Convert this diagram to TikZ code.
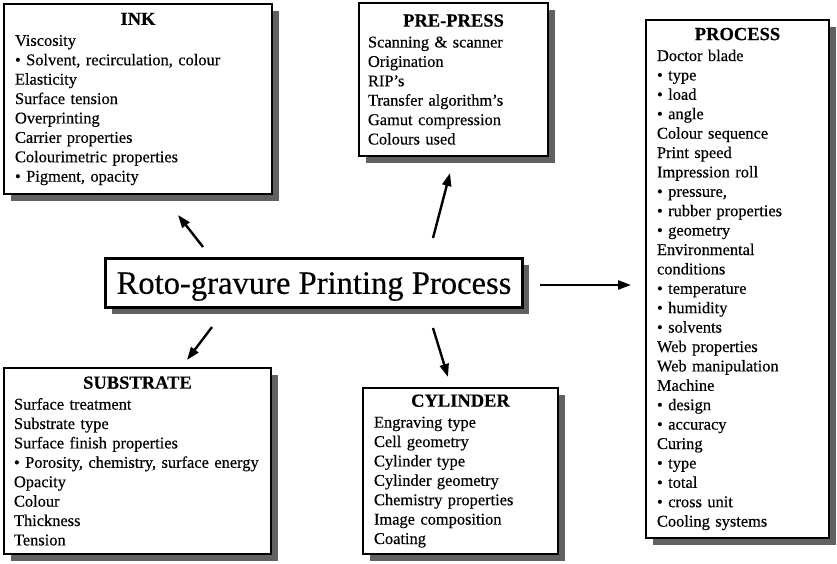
\documentclass[tikz,border=0pt]{standalone}
\usepackage{fontspec}
\setmainfont{Liberation Serif}
\newfontfamily\bodyfont{Liberation Serif}[FakeBold=0.35,Ligatures=TeX]
\usetikzlibrary{shadows,arrows.meta}
\setlength{\parindent}{0pt}
\newcommand{\bxtitle}[1]{{\centering\fontsize{18.5}{22}\selectfont\bfseries #1\par}\vspace{1.5pt}}
\tikzset{
  box/.style={draw=black, line width=2pt, fill=white, anchor=north west,
    inner xsep=11pt, inner ysep=0pt, align=left,
    font=\bodyfont\fontsize{16.4}{19.4}\selectfont,
    drop shadow={shadow xshift=7pt, shadow yshift=-7pt, fill=black!62, opacity=1}},
  mainbox/.style={draw=black, line width=3pt, fill=white, anchor=north west,
    inner sep=0pt, align=center, text height=21.6pt, text depth=0pt,
    font=\bodyfont\fontsize{32.6}{36}\selectfont,
    drop shadow={shadow xshift=6pt, shadow yshift=-6pt, fill=black!62, opacity=1}},
  arr/.style={line width=2.4pt, -{Triangle[length=13pt,width=9pt]}},
}
\begin{document}
\begin{tikzpicture}[x=1pt,y=-1pt]
\useasboundingbox (0,0) rectangle (837,564);

\node[box, minimum width=268pt, minimum height=190pt, text width=246pt] (ink) at (3,3)
{\bxtitle{INK}Viscosity\\
• Solvent, recirculation, colour\\
Elasticity\\
Surface tension\\
Overprinting\\
Carrier properties\\
Colourimetric properties\\
• Pigment, opacity};

\node[box, minimum width=189pt, minimum height=153pt, text width=171pt, inner xsep=9pt] (pre) at (358,2)
{\bxtitle{PRE-PRESS}Scanning \& scanner\\
Origination\\
RIP’s\\
Transfer algorithm’s\\
Gamut compression\\
Colours used};

\node[box, minimum width=183pt, minimum height=518pt, text width=161pt] (proc) at (645,19)
{\bxtitle{PROCESS}Doctor blade\\
• type\\
• load\\
• angle\\
Colour sequence\\
Print speed\\
Impression roll\\
• pressure,\\
• rubber properties\\
• geometry\\
Environmental\\
conditions\\
• temperature\\
• humidity\\
• solvents\\
Web properties\\
Web manipulation\\
Machine\\
• design\\
• accuracy\\
Curing\\
• type\\
• total\\
• cross unit\\
Cooling systems};

\node[box, minimum width=267pt, minimum height=186pt, text width=247pt, inner xsep=10pt] (sub) at (3,367)
{\bxtitle{SUBSTRATE}Surface treatment\\
Substrate type\\
Surface finish properties\\
• Porosity, chemistry, surface energy\\
Opacity\\
Colour\\
Thickness\\
Tension};

\node[box, minimum width=195pt, minimum height=166pt, text width=173pt] (cyl) at (362,387)
{\bxtitle{CYLINDER}Engraving type\\
Cell geometry\\
Cylinder type\\
Cylinder geometry\\
Chemistry properties\\
Image composition\\
Coating};

\node[mainbox, minimum width=417pt, minimum height=49pt] (main) at (104,257)
{Roto-gravure Printing Process};

\coordinate (aInkS) at (203,247);
\coordinate (aInkE) at (178,215);
\coordinate (aPreS) at (433,238);
\coordinate (aPreE) at (450,173);
\coordinate (aSubS) at (212,327);
\coordinate (aSubE) at (187,360);
\coordinate (aCylS) at (433,328);
\coordinate (aCylE) at (448,377);
\coordinate (aProS) at (540,285);
\coordinate (aProE) at (631,285);

\draw[arr] (aInkS) -- (aInkE);
\draw[arr] (aPreS) -- (aPreE);
\draw[arr] (aSubS) -- (aSubE);
\draw[arr] (aCylS) -- (aCylE);
\draw[arr] (aProS) -- (aProE);
\end{tikzpicture}
\end{document}
